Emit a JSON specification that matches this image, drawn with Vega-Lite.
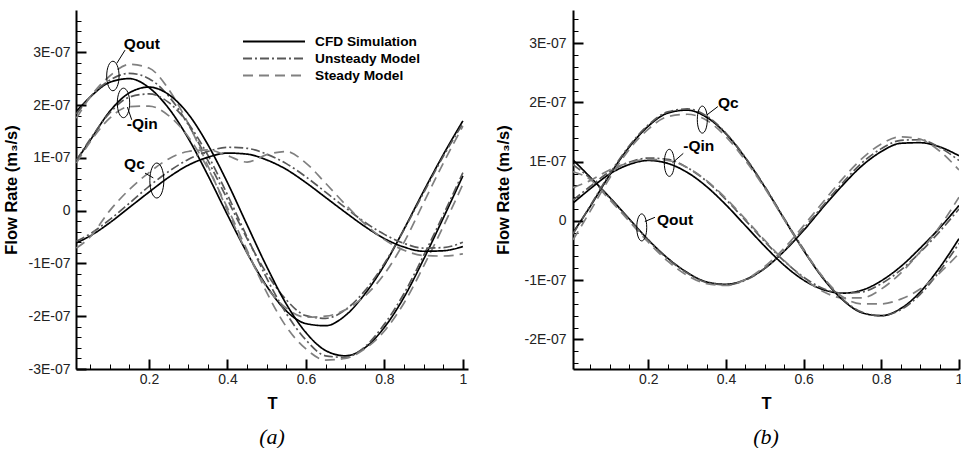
{
  "$schema": "https://vega.github.io/schema/vega-lite/v6.json",
  "background": "white",
  "padding": {"left": 3, "top": 10, "right": 0, "bottom": 0},
  "spacing": 27,
  "config": {
    "view": {"stroke": null},
    "font": "Liberation Sans",
    "axis": {"labelFont": "Liberation Sans", "titleFont": "Liberation Sans", "grid": false}
  },
  "datasets": {
    "a": [
      {"T":0.015,"series":"Qout","CFD Simulation":1.88e-7,"Unsteady Model":1.83e-7,"Steady Model":1.75e-7},
      {"T":0.05,"series":"Qout","CFD Simulation":2.15e-7,"Unsteady Model":2.15e-7,"Steady Model":2.15e-7},
      {"T":0.1,"series":"Qout","CFD Simulation":2.43e-7,"Unsteady Model":2.47e-7,"Steady Model":2.55e-7},
      {"T":0.15,"series":"Qout","CFD Simulation":2.50e-7,"Unsteady Model":2.60e-7,"Steady Model":2.77e-7},
      {"T":0.2,"series":"Qout","CFD Simulation":2.33e-7,"Unsteady Model":2.50e-7,"Steady Model":2.70e-7},
      {"T":0.25,"series":"Qout","CFD Simulation":1.94e-7,"Unsteady Model":2.17e-7,"Steady Model":2.30e-7},
      {"T":0.3,"series":"Qout","CFD Simulation":1.37e-7,"Unsteady Model":1.63e-7,"Steady Model":1.65e-7},
      {"T":0.35,"series":"Qout","CFD Simulation":0.67e-7,"Unsteady Model":0.95e-7,"Steady Model":0.85e-7},
      {"T":0.4,"series":"Qout","CFD Simulation":-0.08e-7,"Unsteady Model":0.21e-7,"Steady Model":0.0},
      {"T":0.45,"series":"Qout","CFD Simulation":-0.80e-7,"Unsteady Model":-0.53e-7,"Steady Model":-0.80e-7},
      {"T":0.5,"series":"Qout","CFD Simulation":-1.43e-7,"Unsteady Model":-1.19e-7,"Steady Model":-1.45e-7},
      {"T":0.55,"series":"Qout","CFD Simulation":-1.90e-7,"Unsteady Model":-1.69e-7,"Steady Model":-1.85e-7},
      {"T":0.6,"series":"Qout","CFD Simulation":-2.14e-7,"Unsteady Model":-1.99e-7,"Steady Model":-2.02e-7},
      {"T":0.65,"series":"Qout","CFD Simulation":-2.18e-7,"Unsteady Model":-2.04e-7,"Steady Model":-2.00e-7},
      {"T":0.7,"series":"Qout","CFD Simulation":-1.99e-7,"Unsteady Model":-1.88e-7,"Steady Model":-1.88e-7},
      {"T":0.75,"series":"Qout","CFD Simulation":-1.58e-7,"Unsteady Model":-1.52e-7,"Steady Model":-1.62e-7},
      {"T":0.8,"series":"Qout","CFD Simulation":-1.03e-7,"Unsteady Model":-1.00e-7,"Steady Model":-1.20e-7},
      {"T":0.85,"series":"Qout","CFD Simulation":-0.35e-7,"Unsteady Model":-0.36e-7,"Steady Model":-0.60e-7},
      {"T":0.9,"series":"Qout","CFD Simulation":0.37e-7,"Unsteady Model":0.34e-7,"Steady Model":0.15e-7},
      {"T":0.95,"series":"Qout","CFD Simulation":1.06e-7,"Unsteady Model":1.03e-7,"Steady Model":0.90e-7},
      {"T":1.0,"series":"Qout","CFD Simulation":1.70e-7,"Unsteady Model":1.65e-7,"Steady Model":1.60e-7},
      {"T":0.015,"series":"-Qin","CFD Simulation":0.95e-7,"Unsteady Model":0.95e-7,"Steady Model":0.90e-7},
      {"T":0.05,"series":"-Qin","CFD Simulation":1.33e-7,"Unsteady Model":1.35e-7,"Steady Model":1.30e-7},
      {"T":0.1,"series":"-Qin","CFD Simulation":1.88e-7,"Unsteady Model":1.85e-7,"Steady Model":1.75e-7},
      {"T":0.15,"series":"-Qin","CFD Simulation":2.23e-7,"Unsteady Model":2.15e-7,"Steady Model":1.97e-7},
      {"T":0.2,"series":"-Qin","CFD Simulation":2.34e-7,"Unsteady Model":2.21e-7,"Steady Model":1.98e-7},
      {"T":0.25,"series":"-Qin","CFD Simulation":2.20e-7,"Unsteady Model":2.05e-7,"Steady Model":1.80e-7},
      {"T":0.3,"series":"-Qin","CFD Simulation":1.83e-7,"Unsteady Model":1.65e-7,"Steady Model":1.40e-7},
      {"T":0.35,"series":"-Qin","CFD Simulation":1.25e-7,"Unsteady Model":1.05e-7,"Steady Model":0.80e-7},
      {"T":0.4,"series":"-Qin","CFD Simulation":0.53e-7,"Unsteady Model":0.30e-7,"Steady Model":0.05e-7},
      {"T":0.45,"series":"-Qin","CFD Simulation":-0.27e-7,"Unsteady Model":-0.50e-7,"Steady Model":-0.75e-7},
      {"T":0.5,"series":"-Qin","CFD Simulation":-1.06e-7,"Unsteady Model":-1.28e-7,"Steady Model":-1.55e-7},
      {"T":0.55,"series":"-Qin","CFD Simulation":-1.77e-7,"Unsteady Model":-1.95e-7,"Steady Model":-2.20e-7},
      {"T":0.6,"series":"-Qin","CFD Simulation":-2.31e-7,"Unsteady Model":-2.45e-7,"Steady Model":-2.62e-7},
      {"T":0.65,"series":"-Qin","CFD Simulation":-2.65e-7,"Unsteady Model":-2.75e-7,"Steady Model":-2.83e-7},
      {"T":0.7,"series":"-Qin","CFD Simulation":-2.75e-7,"Unsteady Model":-2.78e-7,"Steady Model":-2.80e-7},
      {"T":0.75,"series":"-Qin","CFD Simulation":-2.60e-7,"Unsteady Model":-2.58e-7,"Steady Model":-2.62e-7},
      {"T":0.8,"series":"-Qin","CFD Simulation":-2.21e-7,"Unsteady Model":-2.15e-7,"Steady Model":-2.28e-7},
      {"T":0.85,"series":"-Qin","CFD Simulation":-1.64e-7,"Unsteady Model":-1.57e-7,"Steady Model":-1.75e-7},
      {"T":0.9,"series":"-Qin","CFD Simulation":-0.92e-7,"Unsteady Model":-0.85e-7,"Steady Model":-1.05e-7},
      {"T":0.95,"series":"-Qin","CFD Simulation":-0.14e-7,"Unsteady Model":-0.08e-7,"Steady Model":-0.30e-7},
      {"T":1.0,"series":"-Qin","CFD Simulation":0.66e-7,"Unsteady Model":0.72e-7,"Steady Model":0.50e-7},
      {"T":0.015,"series":"Qc","CFD Simulation":-0.61e-7,"Unsteady Model":-0.58e-7,"Steady Model":-0.71e-7},
      {"T":0.05,"series":"Qc","CFD Simulation":-0.48e-7,"Unsteady Model":-0.44e-7,"Steady Model":-0.50e-7},
      {"T":0.1,"series":"Qc","CFD Simulation":-0.23e-7,"Unsteady Model":-0.17e-7,"Steady Model":0.0},
      {"T":0.15,"series":"Qc","CFD Simulation":0.06e-7,"Unsteady Model":0.14e-7,"Steady Model":0.40e-7},
      {"T":0.2,"series":"Qc","CFD Simulation":0.35e-7,"Unsteady Model":0.46e-7,"Steady Model":0.72e-7},
      {"T":0.25,"series":"Qc","CFD Simulation":0.63e-7,"Unsteady Model":0.74e-7,"Steady Model":0.98e-7},
      {"T":0.3,"series":"Qc","CFD Simulation":0.86e-7,"Unsteady Model":0.97e-7,"Steady Model":1.12e-7},
      {"T":0.35,"series":"Qc","CFD Simulation":1.01e-7,"Unsteady Model":1.12e-7,"Steady Model":1.15e-7},
      {"T":0.4,"series":"Qc","CFD Simulation":1.09e-7,"Unsteady Model":1.20e-7,"Steady Model":1.04e-7},
      {"T":0.45,"series":"Qc","CFD Simulation":1.07e-7,"Unsteady Model":1.18e-7,"Steady Model":0.92e-7},
      {"T":0.5,"series":"Qc","CFD Simulation":0.96e-7,"Unsteady Model":1.07e-7,"Steady Model":1.06e-7},
      {"T":0.55,"series":"Qc","CFD Simulation":0.78e-7,"Unsteady Model":0.89e-7,"Steady Model":1.12e-7},
      {"T":0.6,"series":"Qc","CFD Simulation":0.53e-7,"Unsteady Model":0.64e-7,"Steady Model":0.90e-7},
      {"T":0.65,"series":"Qc","CFD Simulation":0.25e-7,"Unsteady Model":0.35e-7,"Steady Model":0.52e-7},
      {"T":0.7,"series":"Qc","CFD Simulation":-0.03e-7,"Unsteady Model":0.06e-7,"Steady Model":0.12e-7},
      {"T":0.75,"series":"Qc","CFD Simulation":-0.30e-7,"Unsteady Model":-0.22e-7,"Steady Model":-0.25e-7},
      {"T":0.8,"series":"Qc","CFD Simulation":-0.53e-7,"Unsteady Model":-0.45e-7,"Steady Model":-0.55e-7},
      {"T":0.85,"series":"Qc","CFD Simulation":-0.69e-7,"Unsteady Model":-0.62e-7,"Steady Model":-0.75e-7},
      {"T":0.9,"series":"Qc","CFD Simulation":-0.77e-7,"Unsteady Model":-0.71e-7,"Steady Model":-0.85e-7},
      {"T":0.95,"series":"Qc","CFD Simulation":-0.76e-7,"Unsteady Model":-0.70e-7,"Steady Model":-0.86e-7},
      {"T":1.0,"series":"Qc","CFD Simulation":-0.68e-7,"Unsteady Model":-0.60e-7,"Steady Model":-0.82e-7}
    ],
    "b": [
      {"T":0.006,"series":"Qout","CFD Simulation":1.03e-7,"Unsteady Model":0.95e-7,"Steady Model":0.83e-7},
      {"T":0.05,"series":"Qout","CFD Simulation":0.74e-7,"Unsteady Model":0.72e-7,"Steady Model":0.70e-7},
      {"T":0.1,"series":"Qout","CFD Simulation":0.40e-7,"Unsteady Model":0.39e-7,"Steady Model":0.36e-7},
      {"T":0.15,"series":"Qout","CFD Simulation":0.04e-7,"Unsteady Model":0.03e-7,"Steady Model":0.0},
      {"T":0.2,"series":"Qout","CFD Simulation":-0.32e-7,"Unsteady Model":-0.33e-7,"Steady Model":-0.36e-7},
      {"T":0.25,"series":"Qout","CFD Simulation":-0.63e-7,"Unsteady Model":-0.64e-7,"Steady Model":-0.68e-7},
      {"T":0.3,"series":"Qout","CFD Simulation":-0.87e-7,"Unsteady Model":-0.88e-7,"Steady Model":-0.92e-7},
      {"T":0.35,"series":"Qout","CFD Simulation":-1.03e-7,"Unsteady Model":-1.04e-7,"Steady Model":-1.06e-7},
      {"T":0.4,"series":"Qout","CFD Simulation":-1.07e-7,"Unsteady Model":-1.08e-7,"Steady Model":-1.09e-7},
      {"T":0.45,"series":"Qout","CFD Simulation":-0.99e-7,"Unsteady Model":-1.00e-7,"Steady Model":-0.99e-7},
      {"T":0.5,"series":"Qout","CFD Simulation":-0.80e-7,"Unsteady Model":-0.80e-7,"Steady Model":-0.77e-7},
      {"T":0.55,"series":"Qout","CFD Simulation":-0.51e-7,"Unsteady Model":-0.50e-7,"Steady Model":-0.46e-7},
      {"T":0.6,"series":"Qout","CFD Simulation":-0.16e-7,"Unsteady Model":-0.13e-7,"Steady Model":-0.08e-7},
      {"T":0.65,"series":"Qout","CFD Simulation":0.23e-7,"Unsteady Model":0.26e-7,"Steady Model":0.32e-7},
      {"T":0.7,"series":"Qout","CFD Simulation":0.60e-7,"Unsteady Model":0.64e-7,"Steady Model":0.71e-7},
      {"T":0.75,"series":"Qout","CFD Simulation":0.93e-7,"Unsteady Model":0.98e-7,"Steady Model":1.05e-7},
      {"T":0.8,"series":"Qout","CFD Simulation":1.17e-7,"Unsteady Model":1.22e-7,"Steady Model":1.30e-7},
      {"T":0.85,"series":"Qout","CFD Simulation":1.31e-7,"Unsteady Model":1.36e-7,"Steady Model":1.42e-7},
      {"T":0.9,"series":"Qout","CFD Simulation":1.32e-7,"Unsteady Model":1.37e-7,"Steady Model":1.38e-7},
      {"T":0.95,"series":"Qout","CFD Simulation":1.25e-7,"Unsteady Model":1.24e-7,"Steady Model":1.18e-7},
      {"T":1.0,"series":"Qout","CFD Simulation":1.10e-7,"Unsteady Model":1.02e-7,"Steady Model":0.86e-7},
      {"T":0.006,"series":"-Qin","CFD Simulation":0.30e-7,"Unsteady Model":0.35e-7,"Steady Model":0.56e-7},
      {"T":0.05,"series":"-Qin","CFD Simulation":0.54e-7,"Unsteady Model":0.58e-7,"Steady Model":0.68e-7},
      {"T":0.1,"series":"-Qin","CFD Simulation":0.79e-7,"Unsteady Model":0.83e-7,"Steady Model":0.86e-7},
      {"T":0.15,"series":"-Qin","CFD Simulation":0.95e-7,"Unsteady Model":0.99e-7,"Steady Model":0.98e-7},
      {"T":0.2,"series":"-Qin","CFD Simulation":1.02e-7,"Unsteady Model":1.06e-7,"Steady Model":1.04e-7},
      {"T":0.25,"series":"-Qin","CFD Simulation":0.97e-7,"Unsteady Model":1.04e-7,"Steady Model":1.02e-7},
      {"T":0.3,"series":"-Qin","CFD Simulation":0.82e-7,"Unsteady Model":0.90e-7,"Steady Model":0.90e-7},
      {"T":0.35,"series":"-Qin","CFD Simulation":0.58e-7,"Unsteady Model":0.67e-7,"Steady Model":0.68e-7},
      {"T":0.4,"series":"-Qin","CFD Simulation":0.27e-7,"Unsteady Model":0.36e-7,"Steady Model":0.38e-7},
      {"T":0.45,"series":"-Qin","CFD Simulation":-0.08e-7,"Unsteady Model":0.01e-7,"Steady Model":0.03e-7},
      {"T":0.5,"series":"-Qin","CFD Simulation":-0.43e-7,"Unsteady Model":-0.35e-7,"Steady Model":-0.33e-7},
      {"T":0.55,"series":"-Qin","CFD Simulation":-0.75e-7,"Unsteady Model":-0.68e-7,"Steady Model":-0.67e-7},
      {"T":0.6,"series":"-Qin","CFD Simulation":-1.00e-7,"Unsteady Model":-0.95e-7,"Steady Model":-0.97e-7},
      {"T":0.65,"series":"-Qin","CFD Simulation":-1.16e-7,"Unsteady Model":-1.14e-7,"Steady Model":-1.19e-7},
      {"T":0.7,"series":"-Qin","CFD Simulation":-1.22e-7,"Unsteady Model":-1.22e-7,"Steady Model":-1.30e-7},
      {"T":0.75,"series":"-Qin","CFD Simulation":-1.17e-7,"Unsteady Model":-1.20e-7,"Steady Model":-1.30e-7},
      {"T":0.8,"series":"-Qin","CFD Simulation":-1.01e-7,"Unsteady Model":-1.06e-7,"Steady Model":-1.15e-7},
      {"T":0.85,"series":"-Qin","CFD Simulation":-0.77e-7,"Unsteady Model":-0.83e-7,"Steady Model":-0.88e-7},
      {"T":0.9,"series":"-Qin","CFD Simulation":-0.46e-7,"Unsteady Model":-0.53e-7,"Steady Model":-0.52e-7},
      {"T":0.95,"series":"-Qin","CFD Simulation":-0.12e-7,"Unsteady Model":-0.18e-7,"Steady Model":-0.10e-7},
      {"T":1.0,"series":"-Qin","CFD Simulation":0.26e-7,"Unsteady Model":0.20e-7,"Steady Model":0.40e-7},
      {"T":0.006,"series":"Qc","CFD Simulation":-0.20e-7,"Unsteady Model":-0.22e-7,"Steady Model":-0.32e-7},
      {"T":0.05,"series":"Qc","CFD Simulation":0.24e-7,"Unsteady Model":0.25e-7,"Steady Model":0.16e-7},
      {"T":0.1,"series":"Qc","CFD Simulation":0.77e-7,"Unsteady Model":0.79e-7,"Steady Model":0.72e-7},
      {"T":0.15,"series":"Qc","CFD Simulation":1.24e-7,"Unsteady Model":1.26e-7,"Steady Model":1.20e-7},
      {"T":0.2,"series":"Qc","CFD Simulation":1.60e-7,"Unsteady Model":1.62e-7,"Steady Model":1.55e-7},
      {"T":0.25,"series":"Qc","CFD Simulation":1.82e-7,"Unsteady Model":1.84e-7,"Steady Model":1.76e-7},
      {"T":0.3,"series":"Qc","CFD Simulation":1.87e-7,"Unsteady Model":1.89e-7,"Steady Model":1.80e-7},
      {"T":0.35,"series":"Qc","CFD Simulation":1.75e-7,"Unsteady Model":1.77e-7,"Steady Model":1.70e-7},
      {"T":0.4,"series":"Qc","CFD Simulation":1.47e-7,"Unsteady Model":1.48e-7,"Steady Model":1.42e-7},
      {"T":0.45,"series":"Qc","CFD Simulation":1.06e-7,"Unsteady Model":1.07e-7,"Steady Model":1.02e-7},
      {"T":0.5,"series":"Qc","CFD Simulation":0.57e-7,"Unsteady Model":0.58e-7,"Steady Model":0.55e-7},
      {"T":0.55,"series":"Qc","CFD Simulation":0.03e-7,"Unsteady Model":0.04e-7,"Steady Model":0.02e-7},
      {"T":0.6,"series":"Qc","CFD Simulation":-0.50e-7,"Unsteady Model":-0.48e-7,"Steady Model":-0.50e-7},
      {"T":0.65,"series":"Qc","CFD Simulation":-0.97e-7,"Unsteady Model":-0.96e-7,"Steady Model":-0.95e-7},
      {"T":0.7,"series":"Qc","CFD Simulation":-1.33e-7,"Unsteady Model":-1.32e-7,"Steady Model":-1.28e-7},
      {"T":0.75,"series":"Qc","CFD Simulation":-1.55e-7,"Unsteady Model":-1.54e-7,"Steady Model":-1.40e-7},
      {"T":0.8,"series":"Qc","CFD Simulation":-1.60e-7,"Unsteady Model":-1.60e-7,"Steady Model":-1.40e-7},
      {"T":0.85,"series":"Qc","CFD Simulation":-1.48e-7,"Unsteady Model":-1.50e-7,"Steady Model":-1.32e-7},
      {"T":0.9,"series":"Qc","CFD Simulation":-1.20e-7,"Unsteady Model":-1.24e-7,"Steady Model":-1.15e-7},
      {"T":0.95,"series":"Qc","CFD Simulation":-0.79e-7,"Unsteady Model":-0.85e-7,"Steady Model":-0.88e-7},
      {"T":1.0,"series":"Qc","CFD Simulation":-0.30e-7,"Unsteady Model":-0.38e-7,"Steady Model":-0.55e-7}
    ],
    "labelsA": [
      {"T":0.182,"Q":3.16e-7,"label":"Qout"},
      {"T":0.183,"Q":1.65e-7,"label":"-Qin"},
      {"T":0.163,"Q":0.89e-7,"label":"Qc"}
    ],
    "ellipsesA": [
      {"T":0.108,"Q":2.55e-7,"name":"Qout"},
      {"T":0.135,"Q":2.04e-7,"name":"-Qin"},
      {"T":0.220,"Q":0.57e-7,"name":"Qc"}
    ],
    "leadersA": [
      {"T":0.118,"Q":2.79e-7,"T2":0.139,"Q2":3.04e-7},
      {"T":0.145,"Q":1.96e-7,"T2":0.156,"Q2":1.72e-7},
      {"T":0.190,"Q":0.71e-7,"T2":0.211,"Q2":0.62e-7}
    ],
    "minorA": [
      {"T":0.05,"Q":-2.8e-7},{"T":0.1,"Q":-2.6e-7},{"T":0.15,"Q":-2.4e-7}
    ],
    "labelsB": [
      {"T":0.406,"Q":1.99e-7,"label":"Qc"},
      {"T":0.330,"Q":1.27e-7,"label":"-Qin"},
      {"T":0.269,"Q":0.02e-7,"label":"Qout"}
    ],
    "ellipsesB": [
      {"T":0.339,"Q":1.71e-7,"name":"Qc"},
      {"T":0.254,"Q":0.98e-7,"name":"-Qin"},
      {"T":0.183,"Q":-0.11e-7,"name":"Qout"}
    ],
    "leadersB": [
      {"T":0.351,"Q":1.79e-7,"T2":0.379,"Q2":1.93e-7},
      {"T":0.262,"Q":0.98e-7,"T2":0.290,"Q2":1.14e-7},
      {"T":0.191,"Q":-0.01e-7,"T2":0.217,"Q2":0.06e-7}
    ]
  },
  "hconcat": [
    {
      "width": 392,
      "height": 359,
      "title": {"text": "(a)", "orient": "bottom", "anchor": "middle", "frame": "group", "font": "Liberation Serif", "fontStyle": "italic", "fontWeight": "normal", "fontSize": 22, "color": "black", "offset": 15},
      "resolve": {"axis": {"x": "independent", "y": "independent"}},
      "layer": [
        {
          "data": {"name": "a"},
          "transform": [{"fold": ["CFD Simulation", "Unsteady Model", "Steady Model"], "as": ["model", "Q"]}],
          "mark": {"type": "line", "interpolate": "monotone", "strokeWidth": 1.7, "clip": true},
          "encoding": {
            "x": {"field": "T", "type": "quantitative", "scale": {"domain": [0.014, 1.013], "nice": false, "zero": false},
              "axis": {"orient": "bottom", "title": "T", "values": [0.2, 0.4, 0.6, 0.8, 1], "format": "~g", "labelFlush": false, "domainColor": "black", "domainWidth": 2, "tickColor": "black", "tickWidth": 2, "tickSize": -10, "labelPadding": 13, "labelFontSize": 14, "labelColor": "#222", "titleFontSize": 16.5, "titleFontWeight": "bold", "titleColor": "black", "titlePadding": 9}},
            "y": {"field": "Q", "type": "quantitative", "scale": {"domain": [-3e-7, 3.8e-7], "nice": false, "zero": false},
              "axis": {"orient": "left", "title": "Flow Rate (m₃/s)", "values": [-3e-7, -2e-7, -1e-7, 0, 1e-7, 2e-7, 3e-7], "labelExpr": "datum.value == 0 ? '0' : round(datum.value * 1e7) + 'E-07'", "labelFlush": false, "domainColor": "black", "domainWidth": 2, "tickColor": "black", "tickWidth": 2, "tickSize": -10, "labelPadding": 16, "labelFontSize": 14, "labelColor": "#222", "titleFontSize": 16.5, "titleFontWeight": "bold", "titleColor": "black", "titlePadding": 8}},
            "detail": {"field": "series", "type": "nominal"},
            "color": {"field": "model", "type": "nominal", "scale": {"domain": ["CFD Simulation", "Unsteady Model", "Steady Model"], "range": ["#000000", "#585858", "#808080"]},
              "legend": {"title": null, "orient": "none", "legendX": 166, "legendY": 23, "symbolType": "stroke", "symbolSize": 3844, "symbolStrokeWidth": 2, "clipHeight": 17, "labelFont": "Liberation Sans", "labelFontWeight": "bold", "labelFontSize": 13.7, "labelColor": "black", "labelOffset": 9, "rowPadding": 0}},
            "strokeDash": {"field": "model", "type": "nominal", "scale": {"domain": ["CFD Simulation", "Unsteady Model", "Steady Model"], "range": [[1, 0], [9, 3, 2, 3], [10, 6]]},
              "legend": {"title": null, "orient": "none", "legendX": 166, "legendY": 23, "symbolType": "stroke", "symbolSize": 3844, "symbolStrokeWidth": 2, "clipHeight": 17, "labelFont": "Liberation Sans", "labelFontWeight": "bold", "labelFontSize": 13.7, "labelColor": "black", "labelOffset": 9, "rowPadding": 0}}
          }
        },
        {
          "data": {"name": "ellipsesA"},
          "transform": [{"filter": "datum.name != 'Qc'"}],
          "mark": {"type": "point", "shape": "M0,-1A0.42,1 0 1,1 0,1A0.42,1 0 1,1 0,-1Z", "size": 870, "filled": false, "stroke": "black", "strokeWidth": 1, "opacity": 1},
          "encoding": {
            "x": {"field": "T", "type": "quantitative", "scale": {"domain": [0.014, 1.013], "nice": false, "zero": false},
              "axis": {"orient": "bottom", "title": null, "values": [0.05, 0.1, 0.15, 0.25, 0.3, 0.35, 0.45, 0.5, 0.55, 0.65, 0.7, 0.75, 0.85, 0.9, 0.95], "labels": false, "domain": false, "tickColor": "black", "tickWidth": 1, "tickSize": -5}},
            "y": {"field": "Q", "type": "quantitative", "scale": {"domain": [-3e-7, 3.8e-7], "nice": false, "zero": false},
              "axis": {"orient": "left", "title": null, "values": [-2.8e-7, -2.6e-7, -2.4e-7, -2.2e-7, -1.8e-7, -1.6e-7, -1.4e-7, -1.2e-7, -0.8e-7, -0.6e-7, -0.4e-7, -0.2e-7, 0.2e-7, 0.4e-7, 0.6e-7, 0.8e-7, 1.2e-7, 1.4e-7, 1.6e-7, 1.8e-7, 2.2e-7, 2.4e-7, 2.6e-7, 2.8e-7, 3.2e-7, 3.4e-7, 3.6e-7], "labels": false, "domain": false, "tickColor": "black", "tickWidth": 1, "tickSize": -5}}
          }
        },
        {
          "data": {"name": "ellipsesA"},
          "transform": [{"filter": "datum.name == 'Qc'"}],
          "mark": {"type": "point", "shape": "M0,-1A0.4,1 0 1,1 0,1A0.4,1 0 1,1 0,-1Z", "size": 1225, "filled": false, "stroke": "black", "strokeWidth": 1, "opacity": 1},
          "encoding": {
            "x": {"field": "T", "type": "quantitative", "scale": {"domain": [0.014, 1.013], "nice": false, "zero": false}, "axis": null},
            "y": {"field": "Q", "type": "quantitative", "scale": {"domain": [-3e-7, 3.8e-7], "nice": false, "zero": false}, "axis": null}
          }
        },
        {
          "data": {"name": "leadersA"},
          "mark": {"type": "rule", "color": "black", "strokeWidth": 1},
          "encoding": {
            "x": {"field": "T", "type": "quantitative", "scale": {"domain": [0.014, 1.013], "nice": false, "zero": false}, "axis": null},
            "y": {"field": "Q", "type": "quantitative", "scale": {"domain": [-3e-7, 3.8e-7], "nice": false, "zero": false}, "axis": null},
            "x2": {"field": "T2"},
            "y2": {"field": "Q2"}
          }
        },
        {
          "data": {"name": "labelsA"},
          "mark": {"type": "text", "font": "Liberation Sans", "fontWeight": "bold", "fontSize": 15.5, "color": "black"},
          "encoding": {
            "x": {"field": "T", "type": "quantitative", "scale": {"domain": [0.014, 1.013], "nice": false, "zero": false}, "axis": null},
            "y": {"field": "Q", "type": "quantitative", "scale": {"domain": [-3e-7, 3.8e-7], "nice": false, "zero": false}, "axis": null},
            "text": {"field": "label"}
          }
        }
      ]
    },
    {
      "width": 386,
      "height": 359,
      "title": {"text": "(b)", "orient": "bottom", "anchor": "middle", "frame": "group", "font": "Liberation Serif", "fontStyle": "italic", "fontWeight": "normal", "fontSize": 22, "color": "black", "offset": 15},
      "resolve": {"axis": {"x": "independent", "y": "independent"}},
      "layer": [
        {
          "data": {"name": "b"},
          "transform": [{"fold": ["CFD Simulation", "Unsteady Model", "Steady Model"], "as": ["model", "Q"]}],
          "mark": {"type": "line", "interpolate": "monotone", "strokeWidth": 1.7, "clip": true},
          "encoding": {
            "x": {"field": "T", "type": "quantitative", "scale": {"domain": [0.006, 1.0], "nice": false, "zero": false},
              "axis": {"orient": "bottom", "title": "T", "values": [0.2, 0.4, 0.6, 0.8, 1], "format": "~g", "labelFlush": false, "domainColor": "black", "domainWidth": 2, "tickColor": "black", "tickWidth": 2, "tickSize": -10, "labelPadding": 13, "labelFontSize": 14, "labelColor": "#222", "titleFontSize": 16.5, "titleFontWeight": "bold", "titleColor": "black", "titlePadding": 9}},
            "y": {"field": "Q", "type": "quantitative", "scale": {"domain": [-2.5e-7, 3.56e-7], "nice": false, "zero": false},
              "axis": {"orient": "left", "title": "Flow Rate (m₃/s)", "values": [-2e-7, -1e-7, 0, 1e-7, 2e-7, 3e-7], "labelExpr": "datum.value == 0 ? '0' : round(datum.value * 1e7) + 'E-07'", "labelFlush": false, "domainColor": "black", "domainWidth": 2, "tickColor": "black", "tickWidth": 2, "tickSize": -10, "labelPadding": 17, "labelFontSize": 14, "labelColor": "#222", "titleFontSize": 16.5, "titleFontWeight": "bold", "titleColor": "black", "titlePadding": 12}},
            "detail": {"field": "series", "type": "nominal"},
            "color": {"field": "model", "type": "nominal", "scale": {"domain": ["CFD Simulation", "Unsteady Model", "Steady Model"], "range": ["#000000", "#585858", "#808080"]},
              "legend": {"title": null, "orient": "none", "legendX": 187, "legendY": 36, "symbolType": "stroke", "symbolSize": 3025, "symbolStrokeWidth": 2, "clipHeight": 15.5, "labelFont": "Liberation Sans", "labelFontWeight": "bold", "labelFontSize": 12.6, "labelColor": "black", "labelOffset": 13, "rowPadding": 0}},
            "strokeDash": {"field": "model", "type": "nominal", "scale": {"domain": ["CFD Simulation", "Unsteady Model", "Steady Model"], "range": [[1, 0], [8, 3, 2, 3], [9, 6]]},
              "legend": {"title": null, "orient": "none", "legendX": 187, "legendY": 36, "symbolType": "stroke", "symbolSize": 3025, "symbolStrokeWidth": 2, "clipHeight": 15.5, "labelFont": "Liberation Sans", "labelFontWeight": "bold", "labelFontSize": 12.6, "labelColor": "black", "labelOffset": 13, "rowPadding": 0}}
          }
        },
        {
          "data": {"name": "ellipsesB"},
          "mark": {"type": "point", "shape": "M0,-1A0.37,1 0 1,1 0,1A0.37,1 0 1,1 0,-1Z", "size": 730, "filled": false, "stroke": "black", "strokeWidth": 1, "opacity": 1},
          "encoding": {
            "x": {"field": "T", "type": "quantitative", "scale": {"domain": [0.006, 1.0], "nice": false, "zero": false},
              "axis": {"orient": "bottom", "title": null, "values": [0.05, 0.1, 0.15, 0.25, 0.3, 0.35, 0.45, 0.5, 0.55, 0.65, 0.7, 0.75, 0.85, 0.9, 0.95], "labels": false, "domain": false, "tickColor": "black", "tickWidth": 1, "tickSize": -5}},
            "y": {"field": "Q", "type": "quantitative", "scale": {"domain": [-2.5e-7, 3.56e-7], "nice": false, "zero": false},
              "axis": {"orient": "left", "title": null, "values": [-2.4e-7, -2.2e-7, -1.8e-7, -1.6e-7, -1.4e-7, -1.2e-7, -0.8e-7, -0.6e-7, -0.4e-7, -0.2e-7, 0.2e-7, 0.4e-7, 0.6e-7, 0.8e-7, 1.2e-7, 1.4e-7, 1.6e-7, 1.8e-7, 2.2e-7, 2.4e-7, 2.6e-7, 2.8e-7, 3.2e-7, 3.4e-7], "labels": false, "domain": false, "tickColor": "black", "tickWidth": 1, "tickSize": -5}}
          }
        },
        {
          "data": {"name": "leadersB"},
          "mark": {"type": "rule", "color": "black", "strokeWidth": 1},
          "encoding": {
            "x": {"field": "T", "type": "quantitative", "scale": {"domain": [0.006, 1.0], "nice": false, "zero": false}, "axis": null},
            "y": {"field": "Q", "type": "quantitative", "scale": {"domain": [-2.5e-7, 3.56e-7], "nice": false, "zero": false}, "axis": null},
            "x2": {"field": "T2"},
            "y2": {"field": "Q2"}
          }
        },
        {
          "data": {"name": "labelsB"},
          "mark": {"type": "text", "font": "Liberation Sans", "fontWeight": "bold", "fontSize": 15.5, "color": "black"},
          "encoding": {
            "x": {"field": "T", "type": "quantitative", "scale": {"domain": [0.006, 1.0], "nice": false, "zero": false}, "axis": null},
            "y": {"field": "Q", "type": "quantitative", "scale": {"domain": [-2.5e-7, 3.56e-7], "nice": false, "zero": false}, "axis": null},
            "text": {"field": "label"}
          }
        }
      ]
    }
  ]
}
